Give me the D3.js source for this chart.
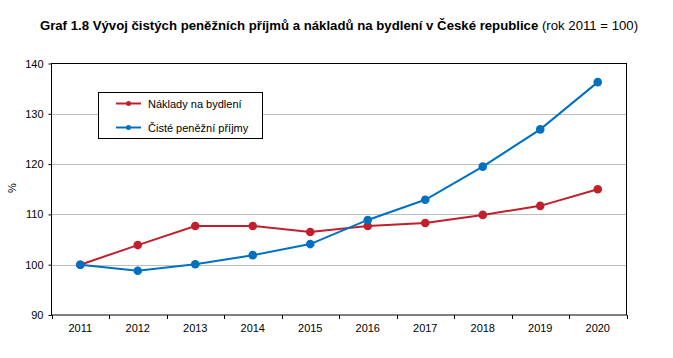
<!DOCTYPE html>
<html><head><meta charset="utf-8">
<script src="https://cdn.jsdelivr.net/npm/d3@7"></script>
<style>body{margin:0;background:#fff;font-family:"Liberation Sans",Arial,sans-serif}</style>
</head><body><svg id="c" width="673" height="358"></svg>
<script>
const years = ["2011","2012","2013","2014","2015","2016","2017","2018","2019","2020"];
const naklady = [100, 103.9, 107.7, 107.7, 106.5, 107.7, 108.3, 109.9, 111.7, 115.0];
const prijmy = [100, 98.8, 100.1, 101.9, 104.1, 108.9, 112.9, 119.5, 126.9, 136.3];
const yTicks = [90, 100, 110, 120, 130, 140];
const seriesNames = ["Náklady na bydlení", "Čisté peněžní příjmy"];
const colors = ["#C0202B", "#0070C0"];

const svg = d3.select("#c");
const L = 51.5, R = 626.5, T = 63.5, B = 315;
const x = d3.scaleBand().domain(years).range([L, R]);
const y = d3.scaleLinear().domain([90, 140]).range([B, T]);

// title
const title = svg.append("text").attr("x", 339).attr("y", 30).attr("text-anchor", "middle")
  .style("font-size", "13.2px").style("fill", "#000");
title.append("tspan").style("font-weight", "bold").text("Graf 1.8 Vývoj čistých peněžních příjmů a nákladů na bydlení v České republice ");
title.append("tspan").text("(rok 2011 = 100)");

// grid
svg.append("g").selectAll("line").data(yTicks.filter(d => d > 90 && d < 140)).join("line")
  .attr("x1", L).attr("x2", R).attr("y1", d => Math.round(y(d)) + 0.5).attr("y2", d => Math.round(y(d)) + 0.5)
  .attr("stroke", "#BDBDBD").attr("stroke-width", 1);

// frame
svg.append("rect").attr("x", L).attr("y", T).attr("width", R - L).attr("height", B - T)
  .attr("fill", "none").attr("stroke", "#000").attr("stroke-width", 1);

// y axis
const ya = svg.append("g").attr("transform", `translate(${L},0)`)
  .call(d3.axisLeft(y).tickValues(yTicks).tickSize(3).tickPadding(5));
ya.select(".domain").remove();
ya.selectAll("text").style("font-size", "11px").style("font-family", "Liberation Sans, Arial").attr("fill", "#000");

// x axis ticks at band boundaries
const xa = svg.append("g").attr("transform", `translate(0,${B})`)
  .call(d3.axisBottom(x).tickSize(0).tickPadding(9));
xa.select(".domain").remove();
xa.selectAll("text").style("font-size", "11px").style("font-family", "Liberation Sans, Arial").attr("fill", "#000");
const bounds = years.map(d => x(d)).concat([x(years[years.length - 1]) + x.bandwidth()]);
svg.append("g").selectAll("line").data(bounds).join("line")
  .attr("x1", d => Math.round(d) + 0.5).attr("x2", d => Math.round(d) + 0.5)
  .attr("y1", B).attr("y2", B + 4).attr("stroke", "#000");

// % label
svg.append("text").attr("transform", "translate(16,188) rotate(-90)").attr("text-anchor", "middle")
  .style("font-size", "11px").text("%");

// lines
const cx = d => x(d) + x.bandwidth() / 2;
const line = d3.line().x((d, i) => cx(years[i])).y(d => y(d));
[naklady, prijmy].forEach((s, k) => {
  svg.append("path").datum(s).attr("d", line).attr("fill", "none")
    .attr("stroke", colors[k]).attr("stroke-width", 2);
  svg.append("g").selectAll("circle").data(s).join("circle")
    .attr("cx", (d, i) => cx(years[i])).attr("cy", d => y(d)).attr("r", 4.3).attr("fill", colors[k]);
});

// legend
const lg = svg.append("g");
lg.append("rect").attr("x", 98.5).attr("y", 92.5).attr("width", 164).attr("height", 46)
  .attr("fill", "#fff").attr("stroke", "#000");
seriesNames.forEach((n, k) => {
  const yy = 103.5 + k * 24;
  lg.append("line").attr("x1", 116).attr("x2", 141).attr("y1", yy).attr("y2", yy)
    .attr("stroke", colors[k]).attr("stroke-width", 2);
  lg.append("circle").attr("cx", 128.5).attr("cy", yy).attr("r", 2.5).attr("fill", colors[k]);
  lg.append("text").attr("x", 148).attr("y", yy + 4).style("font-size", "11px").text(n);
});
</script></body></html>
